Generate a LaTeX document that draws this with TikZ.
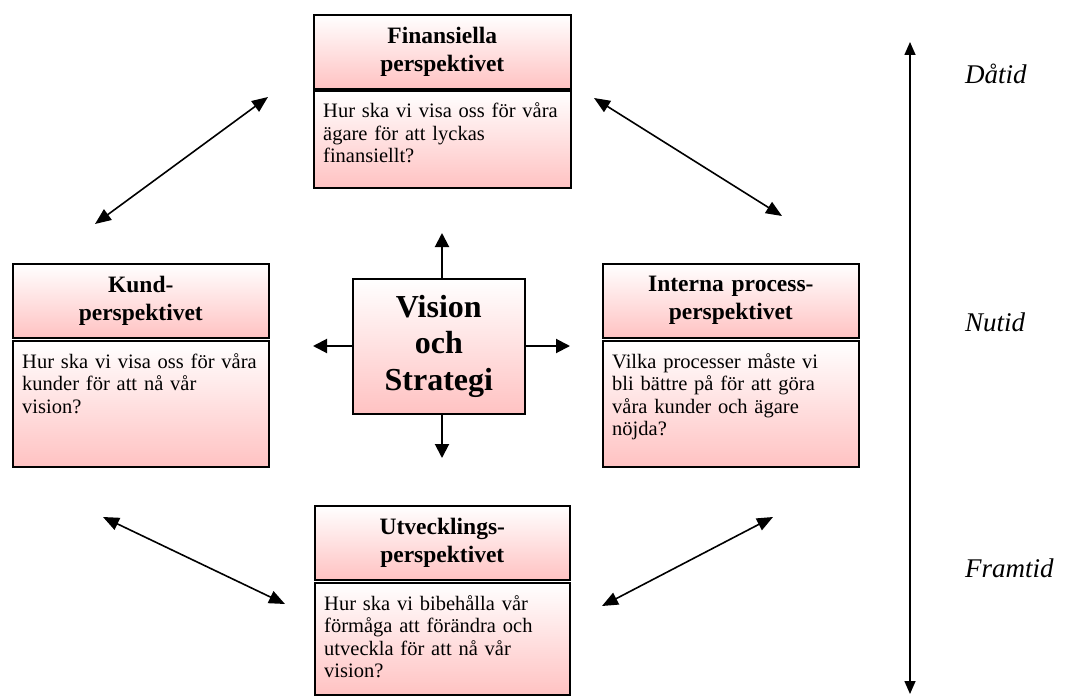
\documentclass[tikz,border=0pt]{standalone}
\usepackage{fontspec}
\setmainfont{Liberation Serif}
\usetikzlibrary{arrows.meta}
\definecolor{pinkc}{RGB}{255,194,194}
\begin{document}
\begin{tikzpicture}[x=1pt,y=-1pt,
  pinkfill/.style={top color=white, bottom color=pinkc, draw=black, line width=1.6pt},
  hdr/.style={pinkfill, inner sep=0pt, align=center,
    font=\fontsize{23.5}{28}\selectfont\bfseries},
  bodyb/.style={pinkfill, inner sep=0pt},
  bodyt/.style={inner sep=0pt, align=left, text width=245pt,
    font=\fontsize{20.5}{22.5}\selectfont},
  visbox/.style={pinkfill, inner sep=0pt, align=center,
    font=\fontsize{32}{36.5}\selectfont\bfseries},
  varrow/.style={line width=2pt, -{Triangle[length=14pt,width=14pt]}},
  darrow/.style={line width=1.6pt, {Triangle[length=16pt,width=13pt]}-{Triangle[length=16pt,width=13pt]}},
  tarrow/.style={line width=1.6pt, {Triangle[length=13pt,width=11pt]}-{Triangle[length=13pt,width=11pt]}},
  timelbl/.style={inner sep=0pt, anchor=base west,
    font=\fontsize{27}{32}\selectfont\itshape}]
\useasboundingbox (0,0) rectangle (1065,698);

% Financial perspective (top)
\node[hdr, text width=257pt, minimum height=74pt, anchor=north west] (finH) at (313,14) {Finansiella\\perspektivet};
\node[bodyb, minimum width=257pt, minimum height=97pt, anchor=north west] (finB) at (313,90) {};
\node[bodyt, anchor=base west] (finT) at ([xshift=10pt,yshift=-27.5pt]finB.north west)
  {Hur ska vi visa oss för våra\\ägare för att lyckas\\finansiellt?};

% Customer perspective (left)
\node[hdr, text width=256pt, minimum height=74pt, anchor=north west] (kunH) at (12,263) {Kund-\\perspektivet};
\node[bodyb, minimum width=256pt, minimum height=126pt, anchor=north west] (kunB) at (12,340) {};
\node[bodyt, anchor=base west] (kunT) at ([xshift=10pt,yshift=-28pt]kunB.north west)
  {Hur ska vi visa oss för våra\\kunder för att nå vår\\vision?};

% Internal process perspective (right)
\node[hdr, text width=256pt, minimum height=74pt, anchor=north west] (intH) at (602,263) {Interna process-\\perspektivet};
\node[bodyb, minimum width=256pt, minimum height=126pt, anchor=north west] (intB) at (602,340) {};
\node[bodyt, anchor=base west] (intT) at ([xshift=10pt,yshift=-28pt]intB.north west)
  {Vilka processer måste vi\\bli bättre på för att göra\\våra kunder och ägare\\nöjda?};

% Learning and growth perspective (bottom)
\node[hdr, text width=255pt, minimum height=74pt, anchor=north west] (utvH) at (314,505) {Utvecklings-\\perspektivet};
\node[bodyb, minimum width=255pt, minimum height=112pt, anchor=north west] (utvB) at (314,582) {};
\node[bodyt, anchor=base west] (utvT) at ([xshift=10pt,yshift=-28pt]utvB.north west)
  {Hur ska vi bibehålla vår\\förmåga att förändra och\\utveckla för att nå vår\\vision?};

% Vision and strategy (centre)
\node[visbox, text width=172pt, minimum height=135pt, anchor=north west] (vis) at (352,278) {Vision\\och\\Strategi};

% Arrows out of the centre
\coordinate (vUp) at (442,233);
\coordinate (vDown) at (442,458);
\coordinate (vLeft) at (313,346);
\coordinate (vRight) at (570,346);
\draw[varrow] (vis.north -| vUp) -- (vUp);
\draw[varrow] (vis.south -| vDown) -- (vDown);
\draw[varrow] (vis.west |- vLeft) -- (vLeft);
\draw[varrow] (vis.east |- vRight) -- (vRight);

% Two-way arrows between the perspectives
\coordinate (tlA) at (95,224);
\coordinate (tlB) at (268,97);
\coordinate (trA) at (594,98);
\coordinate (trB) at (782,216);
\coordinate (blA) at (103,517);
\coordinate (blB) at (285,604);
\coordinate (brA) at (602,606);
\coordinate (brB) at (773,517);
\draw[darrow] (tlA) -- (tlB);
\draw[darrow] (trA) -- (trB);
\draw[darrow] (blA) -- (blB);
\draw[darrow] (brA) -- (brB);

% Time axis
\coordinate (tTop) at (910,42);
\coordinate (tBot) at (910,694);
\draw[tarrow] (tTop) -- (tBot);
\node[timelbl] (past) at (965,84) {Dåtid};
\node[timelbl] (now) at (965,331) {Nutid};
\node[timelbl] (future) at (965,577) {Framtid};
\end{tikzpicture}
\end{document}
